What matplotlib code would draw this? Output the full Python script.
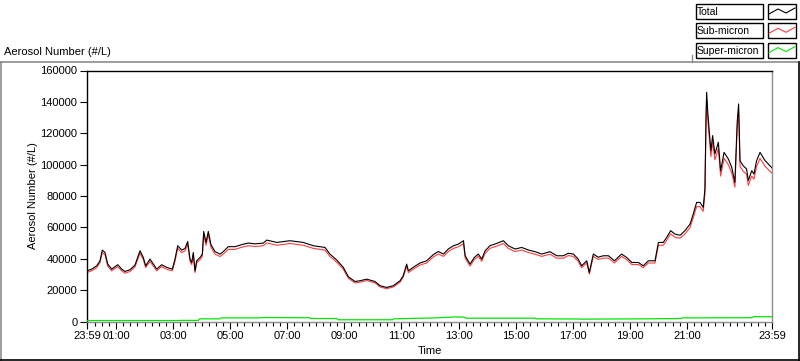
import matplotlib
matplotlib.use("Agg")
import matplotlib.pyplot as plt
from matplotlib.patches import Rectangle
from matplotlib.lines import Line2D

plt.rcParams['font.family'] = ['Liberation Sans', 'DejaVu Sans']
FS = 8

# ---------------- data (hours since 23:59 of the previous day) ----------------
hours = [
    0.00, 0.165, 0.34, 0.455, 0.536, 0.631, 0.725, 0.865, 1.076, 1.216, 1.331, 1.507,
    1.682, 1.857, 1.973, 2.057, 2.207, 2.323, 2.442, 2.617, 2.792, 2.989, 3.083, 3.178,
    3.318, 3.434, 3.528, 3.609, 3.668, 3.725, 3.784, 3.844, 3.959, 4.04, 4.089, 4.17,
    4.25, 4.345, 4.485, 4.66, 4.776, 4.951, 5.186, 5.42, 5.652, 5.887, 6.177,
    6.30, 6.65, 7.11, 7.58, 7.93, 8.34, 8.51, 8.75, 8.98, 9.16, 9.39, 9.57, 9.80,
    10.09, 10.27, 10.50, 10.73, 10.97, 11.08, 11.20, 11.26, 11.43, 11.67, 11.90, 12.13,
    12.31, 12.49, 12.66, 12.84, 13.02, 13.19, 13.25, 13.42, 13.57, 13.71, 13.83, 13.95,
    14.12, 14.36, 14.59, 14.76, 15.00, 15.23, 15.46, 15.70, 15.93, 16.22, 16.46, 16.69,
    16.86, 17.04, 17.21, 17.33, 17.51, 17.60, 17.74, 17.91, 18.09, 18.27, 18.48,
    18.73, 18.91, 19.09, 19.32, 19.49, 19.67, 19.90, 20.02, 20.19, 20.31, 20.45, 20.60,
    20.78, 20.95, 21.13, 21.24, 21.36, 21.48, 21.59, 21.65, 21.69, 21.71, 21.75, 21.80,
    21.86, 21.92, 22.00, 22.12, 22.20, 22.32, 22.47, 22.59, 22.70, 22.78, 22.83, 22.88,
    22.99, 23.11, 23.17, 23.29, 23.37, 23.46, 23.58, 23.76, 23.93, 24.00,
]

total = [
    32300, 33400, 35500, 38700, 45500, 44000, 36600, 33400, 36200, 33400, 31900, 33000,
    36000, 45100, 40800, 35500, 39800, 36600, 33400, 36200, 34500, 33400, 39800, 48300,
    45500, 46600, 51000, 39800, 37600, 44000, 32300, 38700, 40800, 42900, 57400, 50400,
    57400, 48900, 44600, 42900, 44600, 47700, 47700, 49000, 50000, 49500, 50000,
    51900, 50400, 51500, 50400, 48300, 47200, 43000, 39200, 34500, 28500, 25500, 26000, 27000,
    25500, 22800, 21700, 22800, 26000, 29200, 36600, 32300, 34500, 37300, 38700, 42600,
    44600, 43000, 46200, 48300, 49400, 51500, 41900, 36600, 40800, 43000, 39800, 45100,
    48300, 49800, 51500, 48300, 46200, 47200, 45600, 44500, 43000, 44500, 41900, 41900,
    43500, 43000, 39800, 35500, 38700, 31300, 43000, 41000, 41900, 41900, 38700,
    43000, 40800, 37600, 37600, 35500, 38700, 38700, 50400, 50400, 53600, 57900, 55700,
    55000, 57900, 62100, 68500, 75900, 75900, 72700, 84500, 132300, 146100, 133300, 121700,
    108900, 118500, 106800, 114200, 96100, 107800, 103600, 98200, 88700, 127000, 138700, 102500,
    99300, 97200, 89800, 96100, 94000, 102500, 107800, 102500, 99300, 97900,
]

sub_micron = [
    31300, 32300, 34300, 37400, 43900, 42500, 35300, 32300, 35000, 32300, 30800, 31900,
    34800, 43500, 39400, 34300, 38400, 35300, 32300, 35000, 33300, 32300, 38400, 46600,
    43900, 45000, 49200, 38400, 36300, 42500, 31200, 37400, 39400, 41400, 55400, 48600,
    55400, 47200, 43000, 41400, 43000, 46000, 46000, 47300, 48300, 47800, 48300,
    50100, 48600, 49700, 48600, 46600, 45500, 41500, 37800, 33300, 27500, 24600, 25100, 26100,
    24600, 22000, 20900, 22000, 25100, 28200, 35300, 31200, 33300, 36000, 37300, 41100,
    43000, 41500, 44600, 46600, 47700, 49700, 40400, 35300, 39400, 41500, 38400, 43500,
    46600, 48100, 49700, 46600, 44600, 45500, 44000, 42900, 41500, 42900, 40400, 40400,
    42000, 41500, 38400, 34300, 37300, 30200, 41500, 39600, 40400, 40400, 37300,
    41500, 39400, 36300, 36300, 34300, 37300, 37300, 48600, 48600, 51700, 55900, 53700,
    53100, 55900, 59900, 66100, 73200, 73200, 70200, 81500, 127700, 141000, 128600, 117400,
    105100, 114400, 103100, 110200, 92700, 104000, 100000, 94800, 85600, 122600, 133800, 98900,
    95800, 93800, 86700, 92700, 90700, 98900, 104000, 98900, 95800, 94500,
]

super_hours = [
    0.00, 3.20, 3.30, 3.90, 3.95, 4.66, 4.70, 6.00, 6.20, 7.80, 7.85, 8.75, 8.80,
    10.70, 10.75, 12.20, 12.90, 13.20, 13.30, 15.70, 15.75, 17.20, 17.30, 19.60,
    20.80, 20.85, 23.30, 23.35, 24.00,
]
super_micron = [
    600, 600, 700, 700, 1700, 1700, 2300, 2300, 2500, 2400, 1900, 1900, 1100,
    1100, 1700, 2300, 2900, 2800, 2100, 2100, 1700, 1600, 1500, 1700,
    1900, 2300, 2400, 3100, 3000,
]

series_names = ['Total', 'Sub-micron', 'Super-micron']
series_colors = ['#000000', '#ff3c3c', '#00e600']

yticks = [0, 20000, 40000, 60000, 80000, 100000, 120000, 140000, 160000]
xtick_labels = ['23:59', '01:00', '03:00', '05:00', '07:00', '09:00', '11:00',
                '13:00', '15:00', '17:00', '19:00', '21:00', '23:59']

# ---------------- figure ----------------
W, H = 800, 361
fig = plt.figure(figsize=(W / 100, H / 100), dpi=100)

left_px, right_px, top_px, bottom_px = 87, 772, 70.5, 321.5
ax = fig.add_axes([left_px / W, (H - bottom_px) / H,
                   (right_px - left_px) / W, (bottom_px - top_px) / H])

ax.plot(hours, sub_micron, color=series_colors[1], lw=0.8, zorder=2)
ax.plot(hours, total, color=series_colors[0], lw=0.8, zorder=3)
ax.plot(super_hours, super_micron, color=series_colors[2], lw=0.9, zorder=4)

ax.set_xlim(0, 24)
ax.set_ylim(0, 160000)

ax.set_yticks(yticks)
ax.set_yticklabels([str(v) for v in yticks])

major_x = [0] + [61 / 60 + 2 * k for k in range(11)] + [24]
ax.set_xticks(major_x)
ax.set_xticklabels(xtick_labels)
ax.set_xticks([1 / 60 + 0.25 * k for k in range(96)], minor=True)

ax.tick_params(axis='both', which='major', direction='out', length=5, width=0.8,
               labelsize=FS, pad=2, colors='black')
ax.tick_params(axis='x', which='minor', direction='out', length=3, width=0.8)

for side in ('left', 'top'):
    ax.spines[side].set_color('black')
    ax.spines[side].set_linewidth(1.0)
for side in ('right', 'bottom'):
    ax.spines[side].set_color('#8c8c8c')
    ax.spines[side].set_linewidth(1.0)

fig.text(33 / W, 1 - 195.5 / H, 'Aerosol Number (#/L)', rotation=90,
         ha='center', va='center', fontsize=FS)
fig.text(430 / W, 1 - 351 / H, 'Time', ha='center', va='center', fontsize=FS)
fig.text(4 / W, 1 - 52 / H, 'Aerosol Number (#/L)', ha='left', va='center', fontsize=FS)

# ---------------- overlay: outer frame and legend ----------------
ov = fig.add_axes([0, 0, 1, 1], zorder=-1)
ov.set_xlim(0, W)
ov.set_ylim(H, 0)
ov.axis('off')

ov.add_line(Line2D([0, 798], [61.5, 61.5], color='#8c8c8c', lw=1.2))
ov.add_line(Line2D([0.5, 0.5], [61.5, H], color='#8c8c8c', lw=1.2))
ov.add_line(Line2D([0, 799], [360, 360], color='black', lw=1.2))
ov.add_line(Line2D([798.5, 798.5], [61.5, H], color='black', lw=1.2))
ov.add_line(Line2D([692, 692], [55, 61.5], color='#8c8c8c', lw=1.0))

ov2 = fig.add_axes([0, 0, 1, 1], zorder=5)
ov2.set_xlim(0, W)
ov2.set_ylim(H, 0)
ov2.axis('off')
ov2.patch.set_alpha(0)

row_h = 19.3
zig_x = [769, 778, 786, 795]
zig_dy = [10, 5, 9, 4]
for i, (name, col) in enumerate(zip(series_names, series_colors)):
    y0 = 4 + i * row_h
    ov2.add_patch(Rectangle((695.5, y0), 67, 15, fill=False, ec='black', lw=1.0))
    ov2.add_patch(Rectangle((767.5, y0), 28.5, 15, fill=False, ec='black', lw=1.0))
    ov2.text(697, y0 + 8, name, ha='left', va='center', fontsize=7.5)
    ov2.add_line(Line2D(zig_x, [y0 + d for d in zig_dy], color=col, lw=0.8))

fig.savefig('out.png', dpi=100)
